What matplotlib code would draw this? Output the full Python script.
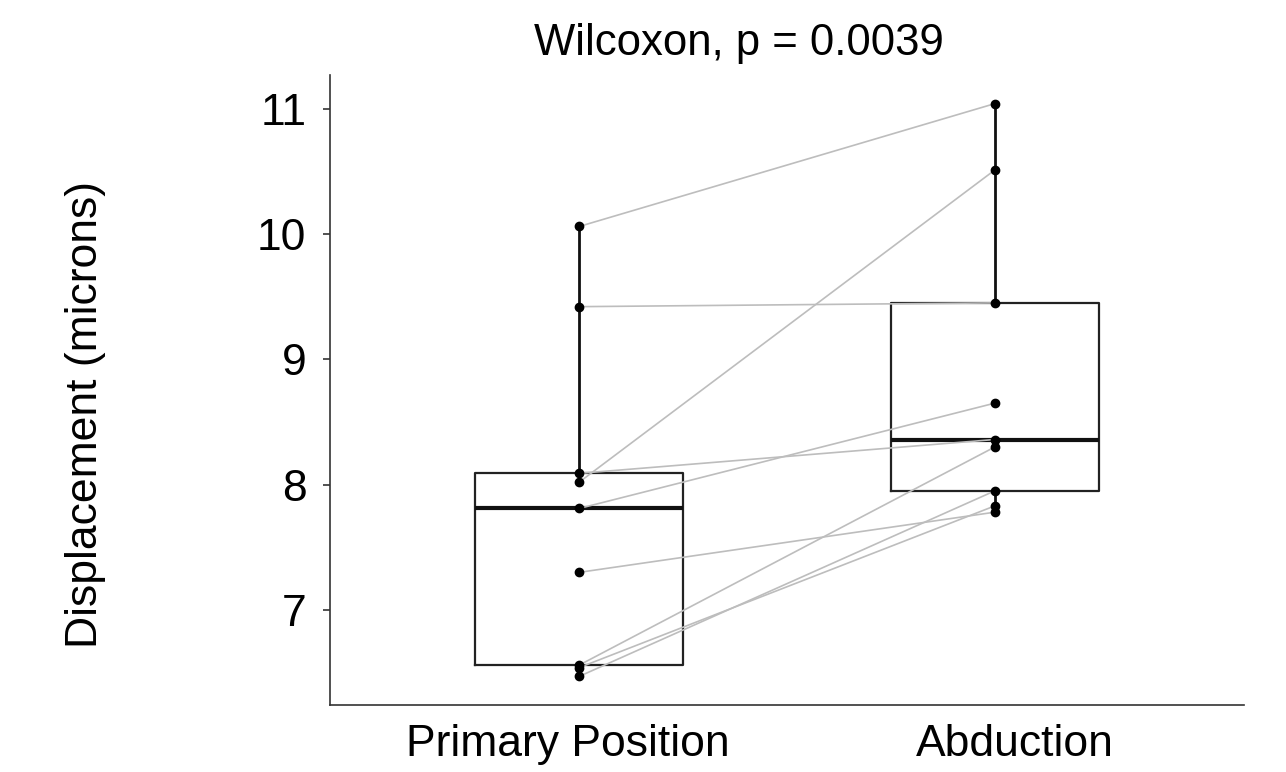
import matplotlib
matplotlib.use("Agg")
import matplotlib.pyplot as plt
from matplotlib.transforms import ScaledTranslation

# paired displacement measurements (microns), one entry per subject
conditions = ["Primary Position", "Abduction"]
primary = [10.06, 9.42, 8.09, 8.02, 7.81, 7.30, 6.56, 6.54, 6.47]
abduction = [11.04, 9.45, 8.36, 10.51, 8.65, 7.78, 8.30, 7.83, 7.95]
yticks = [7, 8, 9, 10, 11]
title = "Wilcoxon, p = 0.0039"

plt.rcParams["font.family"] = ["Liberation Sans", "DejaVu Sans"]

fig = plt.figure(figsize=(12.86, 7.72), dpi=100)
ax = fig.add_axes([330 / 1286, 1 - 705 / 772, 914 / 1286, 630 / 772])

pos = [1, 2]
ax.boxplot([primary, abduction], positions=pos, widths=0.5, whis=1.5,
           showfliers=False, patch_artist=False,
           boxprops=dict(color="#222222", linewidth=1.6),
           whiskerprops=dict(color="#111111", linewidth=2.0),
           capprops=dict(linewidth=0),
           medianprops=dict(color="#111111", linewidth=3.0))

for a, b in zip(primary, abduction):
    ax.plot(pos, [a, b], color="#bdbdbd", linewidth=1.2, zorder=3)
ax.scatter([1] * len(primary), primary, s=36, color="black", zorder=4)
ax.scatter([2] * len(abduction), abduction, s=36, color="black", zorder=4)

lo = min(primary + abduction)
hi = max(primary + abduction)
pad = (hi - lo) * 0.05
ax.set_ylim(lo - pad, hi + pad)
ax.set_xlim(0.4, 2.6)
ax.set_yticks(yticks)
ax.set_xticks(pos)
ax.set_xticklabels(conditions)
ax.tick_params(axis="x", length=0, pad=14, labelsize=32)
ax.tick_params(axis="y", length=5, width=1.2, pad=12, labelsize=32, color="#333333")
# the category labels sit a little off the box centres in the original
for lab, dx in zip(ax.get_xticklabels(), [-11, 20]):
    lab.set_transform(lab.get_transform() + ScaledTranslation(dx / 100, 0, fig.dpi_scale_trans))
for side in ["top", "right"]:
    ax.spines[side].set_visible(False)
for side in ["left", "bottom"]:
    ax.spines[side].set_color("#333333")
    ax.spines[side].set_linewidth(1.2)

fig.text(86 / 1286, 1 - 414 / 772, "Displacement (microns)", rotation=90,
         ha="center", va="center", fontsize=32)
fig.text(739 / 1286, 1 - 55 / 772, title, ha="center", va="baseline", fontsize=31.5)

fig.savefig("out.png", dpi=100)
